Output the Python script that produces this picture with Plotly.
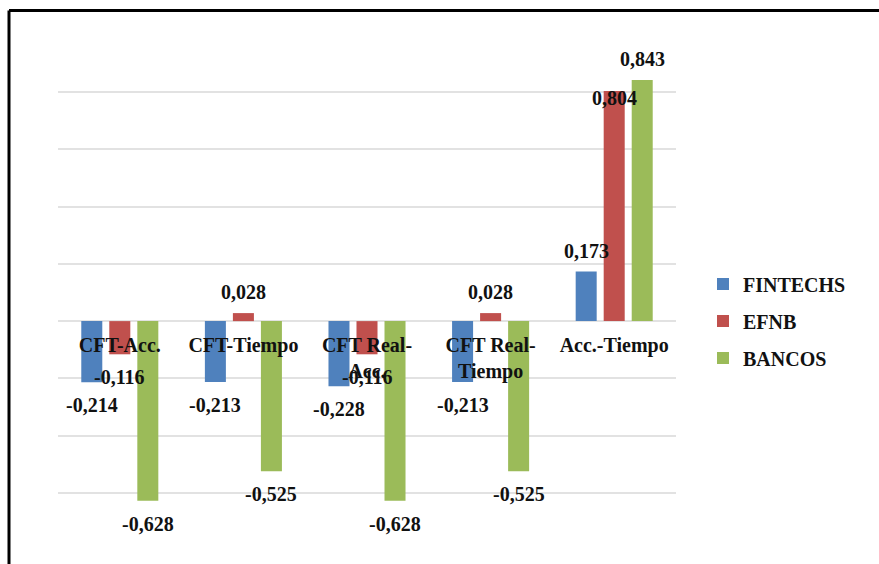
import plotly.graph_objects as go

# Correlation pairs and the value for each group of institutions
categories = ["CFT-Acc.", "CFT-Tiempo", "CFT Real-<br>Acc.", "CFT Real-<br>Tiempo", "Acc.-Tiempo"]
fintechs = [-0.214, -0.213, -0.228, -0.213, 0.173]
efnb = [-0.116, 0.028, -0.116, 0.028, 0.804]
bancos = [-0.628, -0.525, -0.628, -0.525, 0.843]

series = [
    ("FINTECHS", fintechs, "#4F81BD"),
    ("EFNB", efnb, "#C0504D"),
    ("BANCOS", bancos, "#9BBB59"),
]

Y_MIN, Y_MAX = -0.8, 1.0
BARGAP = 0.32
BARGROUPGAP = 0.25
LABEL_FONT = dict(family="Liberation Serif, Times New Roman, serif", size=20,
                  color="#111111", weight="bold")

fig = go.Figure()
for k, (name, vals, color) in enumerate(series):
    fig.add_trace(go.Bar(
        name=name, x=list(range(len(categories))), y=vals,
        marker=dict(color=color, line=dict(width=0)),
        legendgroup=name,
    ))

# Value labels, centred on each bar and set just beyond its end
slot = (1 - BARGAP) / len(series)
label_nudge = {("EFNB", 4): -7}  # this label sits on the bar top
annotations = []
for k, (name, vals, color) in enumerate(series):
    for i, v in enumerate(vals):
        shift = label_nudge.get((name, i), 21 if v >= 0 else -23)
        annotations.append(dict(
            x=i + (k - 1) * slot, y=v, xref="x", yref="y",
            text=f"{v:.3f}".replace(".", ","), showarrow=False,
            yshift=shift, yanchor="middle", xanchor="center",
            font=LABEL_FONT,
        ))

# Outer frame (top and left edges are inside the page)
L, R, T, B = 58, 203, 35, 14
W, H = 879, 564
pw, ph = W - L - R, H - T - B
def px_x(p):
    return (p - L) / pw
def px_y(p):
    return 1 - (p - T) / ph

shapes = [
    dict(type="line", xref="paper", yref="paper", x0=px_x(9), x1=px_x(900),
         y0=px_y(10.5), y1=px_y(10.5), line=dict(color="black", width=3)),
    dict(type="line", xref="paper", yref="paper", x0=px_x(9), x1=px_x(9),
         y0=px_y(10.5), y1=px_y(600), line=dict(color="black", width=3)),
]

fig.update_layout(
    width=W, height=H,
    margin=dict(l=L, r=R, t=T, b=B),
    paper_bgcolor="white", plot_bgcolor="white",
    barmode="group", bargap=BARGAP, bargroupgap=BARGROUPGAP,
    font=LABEL_FONT,
    annotations=annotations,
    shapes=shapes,
    legend=dict(
        x=px_x(703), xanchor="left", y=px_y(321), yanchor="middle",
        font=LABEL_FONT,
        tracegroupgap=8, itemsizing="constant", bgcolor="rgba(0,0,0,0)",
    ),
    showlegend=True,
)

fig.update_yaxes(
    range=[Y_MIN, Y_MAX], dtick=0.2, showticklabels=False,
    showgrid=True, gridcolor="#E2E2E2", gridwidth=2,
    zeroline=True, zerolinecolor="#E2E2E2", zerolinewidth=2,
    showline=False, ticks="",
)
fig.update_xaxes(
    type="linear", range=[-0.5, len(categories) - 0.5],
    tickmode="array", tickvals=list(range(len(categories))), ticktext=categories,
    anchor="free", position=(0 - Y_MIN) / (Y_MAX - Y_MIN),
    showgrid=False, zeroline=False, showline=False, ticks="",
    tickfont=LABEL_FONT, ticklabelstandoff=10,
)

fig.write_html("out.html")
